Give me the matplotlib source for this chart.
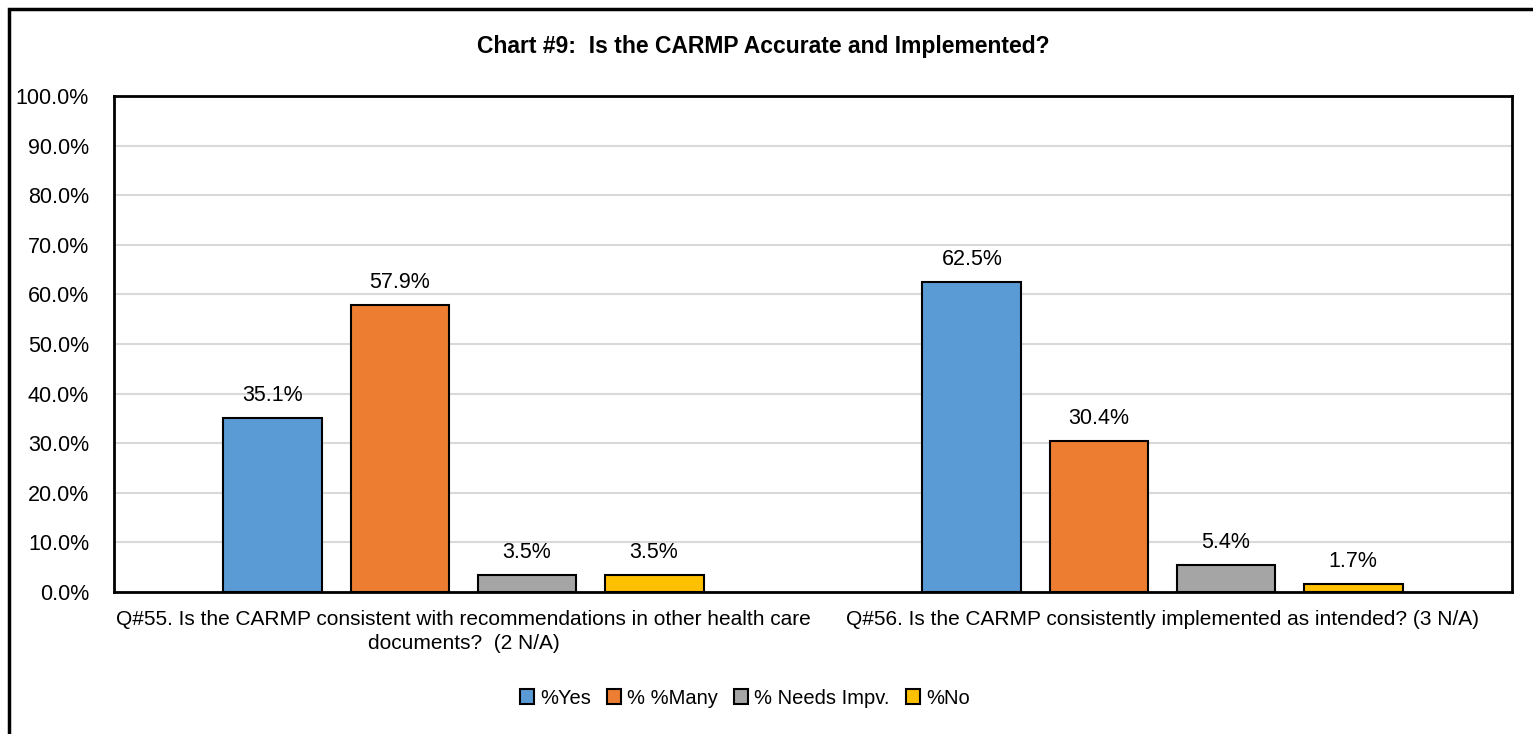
import matplotlib.pyplot as plt
import matplotlib.patches as mpatches
import numpy as np

plt.rcParams['font.family'] = ['Liberation Sans', 'DejaVu Sans']

questions = ['Q#55. Is the CARMP consistent with recommendations in other health care\ndocuments?  (2 N/A)',
             'Q#56. Is the CARMP consistently implemented as intended? (3 N/A)']
series = ['%Yes', '% %Many', '% Needs Impv.', '%No']
yes = [35.1, 62.5]
many = [57.9, 30.4]
needs = [3.5, 5.4]
no = [3.5, 1.7]
colors = ['#5B9BD5', '#ED7D31', '#A5A5A5', '#FFC000']

fig = plt.figure(figsize=(15.33, 7.34), dpi=100)
# outer chart border (right/bottom cut off in the original)
fig.patches.append(mpatches.Rectangle((9 / 1533, -0.05), 1.1, 1 - 9 / 734 + 0.05,
                                      transform=fig.transFigure, fill=False,
                                      edgecolor='black', linewidth=2.5))
ax = fig.add_axes([114 / 1533, 1 - 592 / 734, (1512 - 114) / 1533, (592 - 96) / 734])

x = np.arange(len(questions))
step = 0.1817
width = 0.1416
for i, (vals, name) in enumerate(zip([yes, many, needs, no], series)):
    pos = x + (i - 1.5) * step
    ax.bar(pos, vals, width, color=colors[i], edgecolor='black', linewidth=1.5,
           label=name, zorder=3)
    for p, v in zip(pos, vals):
        ax.text(p, v + 2.4, '%.1f%%' % v, ha='center', va='bottom', fontsize=15.5)

ax.set_xlim(-0.5, 1.5)
ax.set_ylim(0, 100)
ax.set_yticks(np.arange(0, 101, 10))
ax.set_yticklabels(['%.1f%%' % t for t in np.arange(0, 101, 10)], fontsize=15.5)
ax.set_xticks(x)
ax.set_xticklabels(questions, fontsize=15, linespacing=1.3)
ax.tick_params(length=0)
ax.tick_params(axis='x', pad=13)
ax.tick_params(axis='y', pad=18)
ax.grid(axis='y', color='#D9D9D9', linewidth=1.5, zorder=0)
for s in ax.spines.values():
    s.set_linewidth(2)
    s.set_color('black')

fig.text(763 / 1533, 1 - 47 / 734, 'Chart #9:  Is the CARMP Accurate and Implemented?',
         ha='center', va='center', fontsize=16.5, fontweight='bold')

handles = [mpatches.Patch(facecolor=c, edgecolor='black', linewidth=1.5) for c in colors]
fig.legend(handles, series, loc='center', bbox_to_anchor=(745 / 1533, 1 - 698 / 734),
           ncol=4, frameon=False, fontsize=14.5, handlelength=0.7, handleheight=0.7,
           handletextpad=0.3, columnspacing=0.8)

fig.savefig('out.png', dpi=100)
